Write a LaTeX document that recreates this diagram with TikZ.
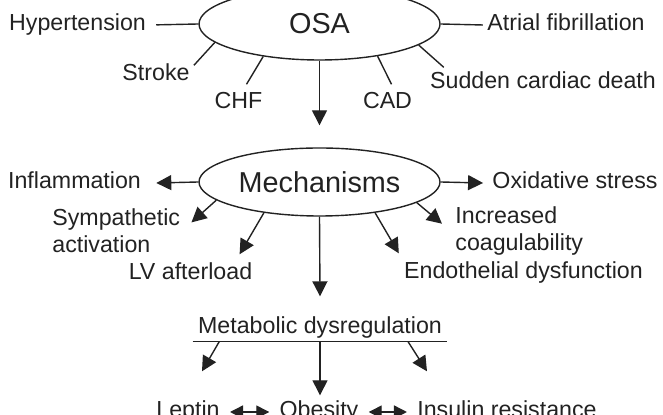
\documentclass[tikz,border=0pt]{standalone}
\usepackage{fontspec}
\setmainfont{Liberation Sans}
\usetikzlibrary{shapes.geometric,arrows.meta,calc}

\definecolor{ink}{HTML}{222222}

\tikzset{
  lbl/.style={inner sep=2pt, text=ink, font=\fontsize{11.6}{13.5}\selectfont},
  oneline/.style={lbl, text height=0.72em, text depth=0.21em},
  oval/.style={ellipse, draw=ink, line width=0.7pt, inner sep=0pt,
    minimum width=120.5pt, text=ink, font=\fontsize{14.4}{16}\selectfont},
  link/.style={draw=ink, line width=0.7pt},
  arr/.style={link, -{Triangle[length=7.5pt,width=7.5pt]}},
  twoway/.style={link, {Triangle[length=6.5pt,width=6.5pt]}-{Triangle[length=6.5pt,width=6.5pt]},
    shorten <=3pt, shorten >=3pt}
}

\begin{document}
\begin{tikzpicture}[x=0.5pt, y=-0.5pt]
  \useasboundingbox (0,0) rectangle (663,415);
  \clip (0,0) rectangle (663,415);

  % OSA and its conditions
  \node[oval, minimum height=36pt] (osa) at (319.5,24) {OSA};
  \node[oneline] (hyp)    at (77.5,25) {Hypertension};
  \node[oneline] (atr)    at (566,25)  {Atrial fibrillation};
  \node[oneline] (stroke) at (156,75)  {Stroke};
  \node[oneline] (chf)    at (238.5,103) {CHF};
  \node[oneline] (cad)    at (387.5,103) {CAD};
  \node[oneline] (sud)    at (543,83)  {Sudden cardiac death};

  \draw[link, shorten >=3pt] (osa.west) -- (hyp.east);
  \draw[link] (osa.east) -- (atr.west);
  \draw[link] (osa.190.6) -- ([shift={(0,4)}]stroke.north east);
  \draw[link] (osa.210.4) -- ([shift={(8,-5)}]chf.north);
  \draw[link] (osa.331.2) -- ([shift={(4,-5)}]cad.north);
  \draw[link] (osa.348) -- ([shift={(18,-2)}]sud.north west);

  % Mechanisms
  \node[oval, minimum height=34pt] (mech) at (319.5,182) {Mechanisms};
  \node[oneline] (infl) at (74.5,183) {Inflammation};
  \node[oneline] (oxid) at (575,183)  {Oxidative stress};
  \node[lbl, align=left, anchor=north west] (symp) at (48,204) {Sympathetic\\activation};
  \node[lbl, align=left, anchor=north west] (incr) at (451,202) {Increased\\coagulability};
  \node[oneline] (lv)   at (190.5,274) {LV afterload};
  \node[oneline] (endo) at (523.5,273) {Endothelial dysfunction};

  \draw[arr] (osa.south) -- ([shift={(0,-22)}]mech.north);
  \draw[arr] (mech.west) -- ([shift={(11,0)}]infl.east);
  \draw[arr] (mech.east) -- ([shift={(-5,0)}]oxid.west);
  \draw[arr] (mech.190.9) -- ([shift={(7,-8)}]symp.east);
  \draw[arr] (mech.209) -- ([shift={(-17,-6)}]lv.north east);
  \draw[arr] (mech.348.8) -- ([shift={(-9,-7)}]incr.west);
  \draw[arr] (mech.331.5) -- ([shift={(-1,-6)}]endo.north west);

  % Metabolic dysregulation
  \node[oneline, inner xsep=2.5pt] (metab) at (320,328) {Metabolic dysregulation};
  \node[oneline] (lep) at (188,412) {Leptin};
  \node[oneline] (obe) at (319,412) {Obesity};
  \node[oneline] (ins) at (507,412) {Insulin resistance};

  \draw[arr] (mech.south) -- ([shift={(0,-18)}]metab.north);
  \draw[link] (metab.south west) -- (metab.south east);
  \draw[arr] ($(metab.south west)!0.104!(metab.south east)$) -- ([shift={(14,-27)}]lep.north);
  \draw[arr] (metab.south) -- ([shift={(1,-3)}]obe.north);
  \draw[arr] ($(metab.south west)!0.846!(metab.south east)$) -- ([shift={(14,-27)}]ins.north west);
  \draw[twoway] (lep.east) -- (obe.west);
  \draw[twoway] (obe.east) -- (ins.west);
\end{tikzpicture}
\end{document}
